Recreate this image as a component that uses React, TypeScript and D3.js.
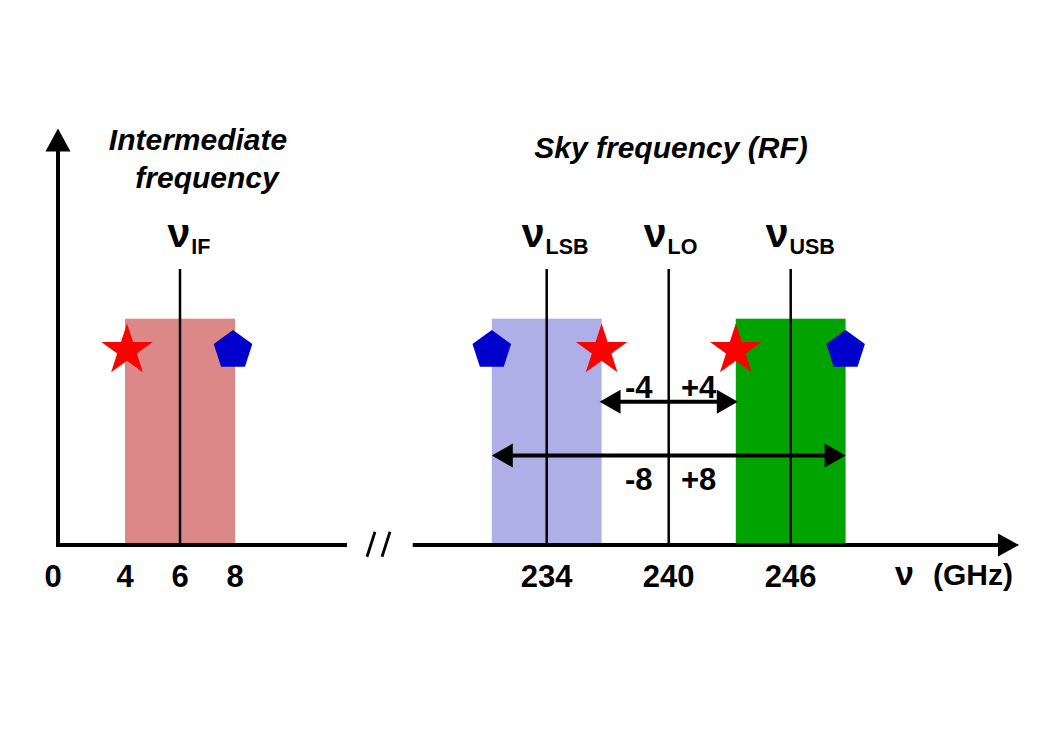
import React from 'react';
import * as d3 from 'd3';

// values
const IF_TICKS = [0, 4, 6, 8];
const RF_TICKS = [234, 240, 246];
const IF_BAND = [4, 8];
const LSB_BAND = [231.3, 236.7];
const USB_BAND = [243.3, 248.7];
const IF_LINES = [{ x: 6, sub: 'IF' }];
const RF_LINES = [
  { x: 234, sub: 'LSB' },
  { x: 240, sub: 'LO' },
  { x: 246, sub: 'USB' },
];
const IF_STARS = [4];
const IF_PENTAGONS = [8];
const RF_STARS = [236.7, 243.3];
const RF_PENTAGONS = [231.3, 248.7];
const OFFSET_ARROWS = [
  { from: 236.6, to: 243.4, level: 0.633, labels: ['-4', '+4'], above: true },
  { from: 231.3, to: 248.7, level: 0.395, labels: ['-8', '+8'], above: false },
];
const LO_FREQ = 240;

const W = 1052;
const H = 744;
const FONT = '"Liberation Sans", Arial, sans-serif';

const ifX = d3.scaleLinear().domain([0, 4, 8]).range([58, 125, 235]);
const rfX = d3.scaleLinear().domain([234, 246]).range([546.7, 790.7]);
const y = d3.scaleLinear().domain([0, 1]).range([545, 318.7]);

const MARK_LEVEL = 0.86;
const LINE_TOP = 1.22;
const AXIS_TOP = 1.84;

const starPath = d3.symbol(d3.symbolStar, 818)();
const pentagon = (r: number) => {
  const pts = d3.range(5).map((k) => {
    const a = -Math.PI / 2 + (k * 2 * Math.PI) / 5;
    return [r * Math.cos(a), r * Math.sin(a)];
  });
  return 'M' + pts.map((p) => p.join(',')).join('L') + 'Z';
};
const pentPath = pentagon(20.3);

// filled triangle arrow head, tip at (x, yy), pointing in dir
const head = (x: number, yy: number, dir: 'left' | 'right' | 'up', len = 21, hw = 12) => {
  if (dir === 'up') return `M${x},${yy}L${x - hw},${yy + len}L${x + hw},${yy + len}Z`;
  const s = dir === 'right' ? -1 : 1;
  return `M${x},${yy}L${x + s * len},${yy - hw}L${x + s * len},${yy + hw}Z`;
};

const Star = ({ x, yy }: { x: number; yy: number }) => (
  <path d={starPath || ''} transform={`translate(${x},${yy})`} fill="#ff0000" />
);
const Pent = ({ x, yy }: { x: number; yy: number }) => (
  <path d={pentPath} transform={`translate(${x},${yy})`} fill="#0000cc" />
);

const NuLabel = ({ x, sub, dx }: { x: number; sub: string; dx: number }) => (
  <text x={x + dx} y={247} fontFamily={FONT} fontWeight="bold" fill="#000">
    <tspan fontSize={41}>ν</tspan>
    <tspan fontSize={21.5} dx={1} dy={6.5}>{sub}</tspan>
  </text>
);

export default function App() {
  const axisY = y(0);
  const markY = y(MARK_LEVEL);
  const lineTop = y(LINE_TOP);
  const leftAxisEnd = 347;
  const rightAxisStart = 412.7;
  const rightAxisTip = 1019;
  const yAxisX = ifX(0);
  const yTip = y(AXIS_TOP);
  const lo = rfX(LO_FREQ);

  return (
    <svg
      width={W}
      height={H}
      style={{ position: 'absolute', left: 0, top: 0, background: '#fff' }}
    >
      {/* bands */}
      <rect
        x={ifX(IF_BAND[0])}
        y={y(1)}
        width={ifX(IF_BAND[1]) - ifX(IF_BAND[0])}
        height={axisY - y(1)}
        fill="#dc8888"
      />
      <rect
        x={rfX(LSB_BAND[0])}
        y={y(1)}
        width={rfX(LSB_BAND[1]) - rfX(LSB_BAND[0])}
        height={axisY - y(1)}
        fill="#afafe8"
      />
      <rect
        x={rfX(USB_BAND[0])}
        y={y(1)}
        width={rfX(USB_BAND[1]) - rfX(USB_BAND[0])}
        height={axisY - y(1)}
        fill="#00a300"
      />

      {/* frequency lines */}
      {IF_LINES.map((d) => (
        <line key={d.sub} x1={ifX(d.x)} x2={ifX(d.x)} y1={lineTop} y2={axisY} stroke="#000" strokeWidth={2.5} />
      ))}
      {RF_LINES.map((d) => (
        <line key={d.sub} x1={rfX(d.x)} x2={rfX(d.x)} y1={lineTop} y2={axisY} stroke="#000" strokeWidth={2.5} />
      ))}
      {IF_LINES.map((d) => (
        <NuLabel key={d.sub} x={ifX(d.x)} sub={d.sub} dx={-12.5} />
      ))}
      {RF_LINES.map((d) => (
        <NuLabel key={d.sub} x={rfX(d.x)} sub={d.sub} dx={-25} />
      ))}

      {/* markers */}
      {IF_STARS.map((v) => <Star key={'is' + v} x={ifX(v) + 2} yy={markY} />)}
      {IF_PENTAGONS.map((v) => <Pent key={'ip' + v} x={ifX(v) - 2} yy={markY} />)}
      {RF_STARS.map((v) => <Star key={'rs' + v} x={rfX(v)} yy={markY} />)}
      {RF_PENTAGONS.map((v) => <Pent key={'rp' + v} x={rfX(v)} yy={markY} />)}

      {/* offset arrows */}
      {OFFSET_ARROWS.map((a) => {
        const x0 = rfX(a.from);
        const x1 = rfX(a.to);
        const ay = y(a.level);
        const ty = a.above ? ay - 4 : ay + 34;
        return (
          <g key={a.labels.join()}>
            <line x1={x0 + 15} x2={x1 - 15} y1={ay} y2={ay} stroke="#000" strokeWidth={4} />
            <path d={head(x0, ay, 'left')} fill="#000" />
            <path d={head(x1, ay, 'right')} fill="#000" />
            <text x={lo - 30} y={ty} textAnchor="middle" fontFamily={FONT} fontWeight="bold" fontSize={31}>
              {a.labels[0]}
            </text>
            <text x={lo + 30} y={ty} textAnchor="middle" fontFamily={FONT} fontWeight="bold" fontSize={31}>
              {a.labels[1]}
            </text>
          </g>
        );
      })}

      {/* axes */}
      <line x1={yAxisX} x2={yAxisX} y1={axisY + 2} y2={yTip + 18} stroke="#000" strokeWidth={4} />
      <path d={head(yAxisX, yTip, 'up', 23, 12.5)} fill="#000" />
      <line x1={yAxisX - 2} x2={leftAxisEnd} y1={axisY} y2={axisY} stroke="#000" strokeWidth={4} />
      <line x1={rightAxisStart} x2={rightAxisTip - 18} y1={axisY} y2={axisY} stroke="#000" strokeWidth={4} />
      <path d={head(rightAxisTip, axisY, 'right', 21, 11.5)} fill="#000" />

      {/* axis break */}
      <line x1={367} y1={556.7} x2={375} y2={531.7} stroke="#000" strokeWidth={2.8} />
      <line x1={382} y1={556.7} x2={390} y2={531.7} stroke="#000" strokeWidth={2.8} />

      {/* tick labels */}
      {IF_TICKS.map((t) => (
        <text
          key={'it' + t}
          x={t === 0 ? ifX(t) - 5 : ifX(t)}
          y={586.7}
          textAnchor="middle"
          fontFamily={FONT}
          fontWeight="bold"
          fontSize={31}
        >
          {t}
        </text>
      ))}
      {RF_TICKS.map((t) => (
        <text key={'rt' + t} x={rfX(t)} y={586.7} textAnchor="middle" fontFamily={FONT} fontWeight="bold" fontSize={31}>
          {t}
        </text>
      ))}
      <text x={895} y={585} fontFamily={FONT} fontWeight="bold" fontSize={34}>
        ν
      </text>
      <text x={1013} y={585} textAnchor="end" fontFamily={FONT} fontWeight="bold" fontSize={30}>
        (GHz)
      </text>

      {/* titles */}
      <text fontFamily={FONT} fontWeight="bold" fontStyle="italic" fontSize={30} textAnchor="middle">
        <tspan x={198} y={150}>Intermediate</tspan>
        <tspan x={207} y={188}>frequency</tspan>
      </text>
      <text
        x={671}
        y={158}
        fontFamily={FONT}
        fontWeight="bold"
        fontStyle="italic"
        fontSize={30}
        textAnchor="middle"
      >
        Sky frequency (RF)
      </text>
    </svg>
  );
}
